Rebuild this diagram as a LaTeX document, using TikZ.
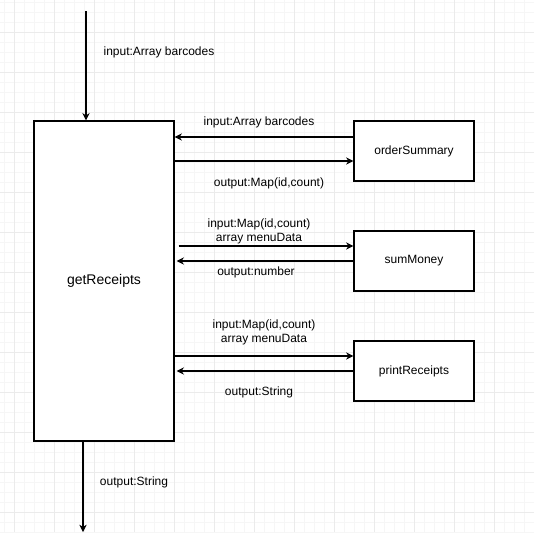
\documentclass[tikz,border=0pt]{standalone}
\usepackage{fontspec}
\setmainfont{Liberation Sans}
\usepackage{tikz}
\usetikzlibrary{arrows.meta,positioning,calc}
\definecolor{gridminor}{HTML}{F6F6F6}
\definecolor{gridmajor}{HTML}{EBEBEB}
\tikzset{
  funcbox/.style={
    rectangle, draw=black, fill=white, line width=0.9pt,
    minimum width=90pt, minimum height=45pt,
    font=\fontsize{9}{11}\selectfont, align=center,
    inner sep=0pt
  },
  mainbox/.style={
    funcbox, minimum width=105pt, minimum height=240pt,
    font=\fontsize{10.5}{12}\selectfont
  },
  flow/.style={
    -{Stealth[length=5.5pt,width=5.5pt]}, line width=0.8pt, color=black
  },
  lbl/.style={
    font=\fontsize{9}{10.5}\selectfont, align=center, inner sep=0pt
  },
}

\begin{document}
\begin{tikzpicture}[x=0.75pt, y=-0.75pt]
\useasboundingbox (0,0) rectangle (534,532);
% background grid
\foreach \gx in {4,14,...,534} \draw[gridminor, line width=0.5pt] (\gx,0) -- (\gx,532);
\foreach \gy in {2,12,...,532} \draw[gridminor, line width=0.5pt] (0,\gy) -- (534,\gy);
\foreach \gx in {14,54,...,534} \draw[gridmajor, line width=0.6pt] (\gx,0) -- (\gx,532);
\foreach \gy in {32,72,...,532} \draw[gridmajor, line width=0.6pt] (0,\gy) -- (534,\gy);

\node[mainbox] (get) at (104,281) {getReceipts};
\node[funcbox] (order) at (414,151) {orderSummary};
\node[funcbox] (sum) at (414,261) {sumMoney};
\node[funcbox] (print) at (414,371) {printReceipts};

% main input / output
\coordinate (in) at (86,11);
\coordinate (out) at (83,532);
\draw[flow] (in) -- (in |- get.north);
\draw[flow] (get.south -| out) -- (out);
\node[lbl] (inlbl) at (159,52) {input:Array barcodes};
\node[lbl] (outlbl) at (134,482) {output:String};

% orderSummary
\draw[flow] ($(order.west)+(0,-14)$) -- ($(get.east)+(0,-144)$);
\draw[flow] ($(get.east)+(0,-120)$) -- ($(order.west)+(0,10)$);
\node[lbl] (ordin) at (259,122) {input:Array barcodes};
\node[lbl] (ordout) at (269,183) {output:Map(id,count)};

% sumMoney
\draw[flow] ($(get.east)+(4,-35)$) -- ($(sum.west)+(0,-15)$);
\draw[flow] ($(sum.west)+(0,0)$) -- ($(get.east)+(2,-20)$);
\node[lbl] (sumin) at (259,231) {input:Map(id,count)\\array menuData};
\node[lbl] (sumout) at (256,272) {output:number};

% printReceipts
\draw[flow] ($(get.east)+(0,75)$) -- ($(print.west)+(0,-15)$);
\draw[flow] ($(print.west)+(0,0)$) -- ($(get.east)+(2,90)$);
\node[lbl] (prin) at (264,332) {input:Map(id,count)\\array menuData};
\node[lbl] (prout) at (259,392) {output:String};
\end{tikzpicture}
\end{document}
